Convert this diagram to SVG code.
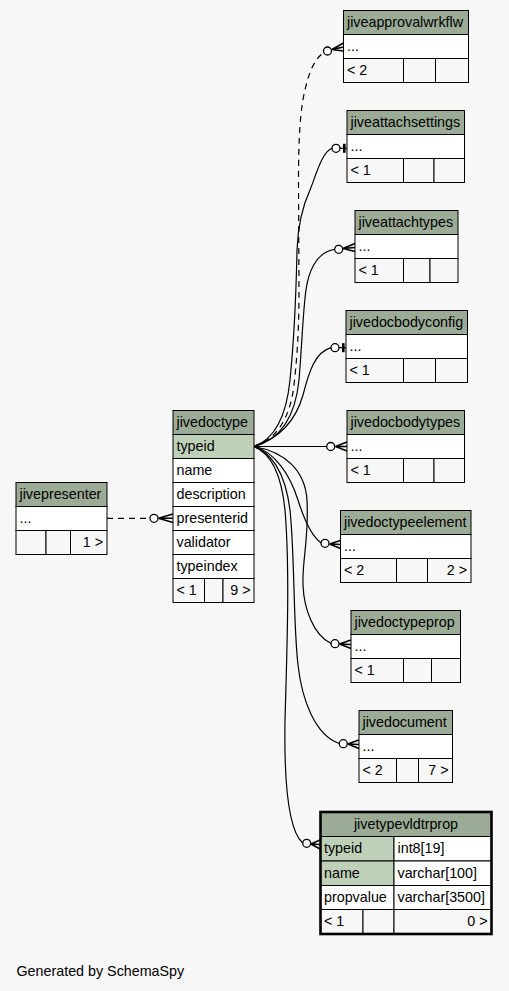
<svg xmlns="http://www.w3.org/2000/svg" width="509" height="991" viewBox="0 0 509 991">
<defs>
<style>
.hd{fill:#9bab96;stroke:#000;stroke-width:1}
.wr{fill:#ffffff;stroke:#000;stroke-width:1}
.ft{fill:#f7f7f7;stroke:#000;stroke-width:1}
.key{fill:#bfd0b8;stroke:#000;stroke-width:1}
text{font-family:"Liberation Sans",Arial,Helvetica,sans-serif;font-size:14.3px;fill:#000}
.r{text-anchor:end}
.c{text-anchor:middle}
.e{fill:none;stroke:#000;stroke-width:1.2}
.d{stroke-dasharray:6,5}
.o{fill:#ffffff;stroke:#000;stroke-width:1.3}
.cr{fill:none;stroke:#000;stroke-width:1.5}
.tee{fill:#000;stroke:none}
</style>
</defs>
<rect x="0" y="0" width="509" height="991" fill="#f7f7f7"/>

<g id="connectors">
<path class="e d" d="M254,446.5 C275,440 290,420 294,385 C298,350 299,320 299,290 L298.5,180 C298.5,140 300,110 305,90 C309,72 315,58 323.5,53"/>
<circle class="o" cx="327.5" cy="51" r="4"/>
<path class="cr" d="M332,49.5 L343.5,43 M332,49.5 L343.5,47 M332,49.5 L343.5,51"/>

<path class="e" d="M254,446.5 C272,440 286,420 290,380 C294,340 296,300 297,250 C298,225 303,205 310,190 C316,175 322,152 332,148.3"/>
<circle class="o" cx="336" cy="148.3" r="4"/>
<path class="e" d="M340,148.3 L347,148.3"/>
<rect class="tee" x="343" y="143.8" width="2.6" height="9"/>

<path class="e" d="M254,446.5 C278,440 295,420 299,380 C302,345 303,310 306,290 C308,275 315,252 334.7,249.3"/>
<circle class="o" cx="338.7" cy="249.3" r="4"/>
<path class="cr" d="M343,248.5 L355,243.5 M343,248.5 L355,247.5 M343,248.5 L355,251.5"/>

<path class="e" d="M254,446.5 C280,438 296,420 303,395 C309,372 315,352 331,347.7"/>
<circle class="o" cx="335" cy="347.7" r="4"/>
<path class="e" d="M339,347.7 L346,347.7"/>
<rect class="tee" x="342" y="343.2" width="2.6" height="9"/>

<path class="e" d="M254,446.5 L326.7,446.5"/>
<circle class="o" cx="330.7" cy="446.5" r="4"/>
<path class="cr" d="M335.5,446.5 L347,442 M335.5,446.5 L347,446.5 M335.5,446.5 L347,451"/>

<path class="e" d="M254,446.5 C275,452 290,475 298,500 C303,516 310,535 321,542.8"/>
<circle class="o" cx="325" cy="543.3" r="4"/>
<path class="cr" d="M329.5,544 L340.5,540.5 M329.5,544 L340.5,544.5 M329.5,544 L340.5,548.5"/>

<path class="e" d="M254,446.5 C285,452 305,470 307,500 C309,540 302,560 303,585 C304,610 314,635 331,643.5"/>
<circle class="o" cx="335" cy="643.7" r="4"/>
<path class="cr" d="M339.5,644 L351,640 M339.5,644 L351,644.5 M339.5,644 L351,648.5"/>

<path class="e" d="M254,446.5 C270,452 285,470 290,510 C295,560 293,620 298,665 C302,700 315,735 339.3,743.5"/>
<circle class="o" cx="343.3" cy="743.7" r="4"/>
<path class="cr" d="M347.8,744 L359,740 M347.8,744 L359,744.5 M347.8,744 L359,748.5"/>

<path class="e" d="M254,446.5 C268,452 281,470 285,510 C290,570 287,650 285,720 C284,780 288,830 302.7,843"/>
<circle class="o" cx="306.7" cy="843.3" r="4"/>
<path class="cr" d="M311,844 L320,840 M311,844 L320,844.5 M311,844 L320,849"/>

<path class="e d" d="M107,518.3 L150,518.3"/>
<circle class="o" cx="154" cy="518.3" r="4"/>
<path class="cr" d="M158.5,518.3 L173,514 M158.5,518.3 L173,518.3 M158.5,518.3 L173,522.5"/>
</g>

<g id="jiveapprovalwrkflw">
<rect class="hd" x="343.5" y="10.5" width="125" height="24"/>
<rect class="wr" x="343.5" y="34.5" width="125" height="24"/>
<rect class="ft" x="343.5" y="58.5" width="60" height="24"/>
<rect class="ft" x="403.5" y="58.5" width="32" height="24"/>
<rect class="ft" x="435.5" y="58.5" width="33" height="24"/>
<text x="347" y="27">jiveapprovalwrkflw</text>
<text x="347" y="51">...</text>
<text x="347" y="75">&lt; 2</text>
</g>

<g id="jiveattachsettings">
<rect class="hd" x="347" y="110.5" width="117.5" height="24"/>
<rect class="wr" x="347" y="134.5" width="117.5" height="24"/>
<rect class="ft" x="347" y="158.5" width="56.5" height="24"/>
<rect class="ft" x="403.5" y="158.5" width="30.5" height="24"/>
<rect class="ft" x="434" y="158.5" width="30.5" height="24"/>
<text x="350.5" y="127">jiveattachsettings</text>
<text x="350.5" y="151">...</text>
<text x="350.5" y="175">&lt; 1</text>
</g>

<g id="jiveattachtypes">
<rect class="hd" x="355" y="210.5" width="103" height="24"/>
<rect class="wr" x="355" y="234.5" width="103" height="24"/>
<rect class="ft" x="355" y="258.5" width="48.5" height="24"/>
<rect class="ft" x="403.5" y="258.5" width="26.5" height="24"/>
<rect class="ft" x="430" y="258.5" width="28" height="24"/>
<text x="358.5" y="227">jiveattachtypes</text>
<text x="358.5" y="251">...</text>
<text x="358.5" y="275">&lt; 1</text>
</g>

<g id="jivedocbodyconfig">
<rect class="hd" x="346" y="310.5" width="121.5" height="24"/>
<rect class="wr" x="346" y="334.5" width="121.5" height="24"/>
<rect class="ft" x="346" y="358.5" width="57.5" height="24"/>
<rect class="ft" x="403.5" y="358.5" width="32" height="24"/>
<rect class="ft" x="435.5" y="358.5" width="32" height="24"/>
<text x="349.5" y="327">jivedocbodyconfig</text>
<text x="349.5" y="351">...</text>
<text x="349.5" y="375">&lt; 1</text>
</g>

<g id="jivedocbodytypes">
<rect class="hd" x="347" y="410.5" width="117.5" height="24"/>
<rect class="wr" x="347" y="434.5" width="117.5" height="24"/>
<rect class="ft" x="347" y="458.5" width="56.5" height="24"/>
<rect class="ft" x="403.5" y="458.5" width="30.5" height="24"/>
<rect class="ft" x="434" y="458.5" width="30.5" height="24"/>
<text x="350.5" y="427">jivedocbodytypes</text>
<text x="350.5" y="451">...</text>
<text x="350.5" y="475">&lt; 1</text>
</g>

<g id="jivedoctypeelement">
<rect class="hd" x="340.5" y="510.5" width="130.5" height="24"/>
<rect class="wr" x="340.5" y="534.5" width="130.5" height="24"/>
<rect class="ft" x="340.5" y="558.5" width="56" height="24"/>
<rect class="ft" x="396.5" y="558.5" width="31" height="24"/>
<rect class="ft" x="427.5" y="558.5" width="43.5" height="24"/>
<text x="344" y="527">jivedoctypeelement</text>
<text x="344" y="551">...</text>
<text x="344" y="575">&lt; 2</text>
<text class="r" x="467" y="575">2 &gt;</text>
</g>

<g id="jivedoctypeprop">
<rect class="hd" x="351" y="610.5" width="109.5" height="24"/>
<rect class="wr" x="351" y="634.5" width="109.5" height="24"/>
<rect class="ft" x="351" y="658.5" width="52.5" height="24"/>
<rect class="ft" x="403.5" y="658.5" width="28" height="24"/>
<rect class="ft" x="431.5" y="658.5" width="29" height="24"/>
<text x="354.5" y="627">jivedoctypeprop</text>
<text x="354.5" y="651">...</text>
<text x="354.5" y="675">&lt; 1</text>
</g>

<g id="jivedocument">
<rect class="hd" x="359" y="710.5" width="93.5" height="24"/>
<rect class="wr" x="359" y="734.5" width="93.5" height="24"/>
<rect class="ft" x="359" y="758.5" width="37.5" height="24"/>
<rect class="ft" x="396.5" y="758.5" width="22" height="24"/>
<rect class="ft" x="418.5" y="758.5" width="34" height="24"/>
<text x="362.5" y="727">jivedocument</text>
<text x="362.5" y="751">...</text>
<text x="362.5" y="775">&lt; 2</text>
<text class="r" x="448.5" y="775">7 &gt;</text>
</g>

<g id="jivedoctype">
<rect class="hd" x="173" y="410.5" width="81" height="24"/>
<rect class="key" x="173" y="434.5" width="81" height="24"/>
<rect class="wr" x="173" y="458.5" width="81" height="24"/>
<rect class="wr" x="173" y="482.5" width="81" height="24"/>
<rect class="wr" x="173" y="506.5" width="81" height="24"/>
<rect class="wr" x="173" y="530.5" width="81" height="24"/>
<rect class="wr" x="173" y="554.5" width="81" height="24"/>
<rect class="ft" x="173" y="578.5" width="31.5" height="24"/>
<rect class="ft" x="204.5" y="578.5" width="18.5" height="24"/>
<rect class="ft" x="223" y="578.5" width="31" height="24"/>
<text x="176.5" y="427">jivedoctype</text>
<text x="176.5" y="451">typeid</text>
<text x="176.5" y="475">name</text>
<text x="176.5" y="499">description</text>
<text x="176.5" y="523">presenterid</text>
<text x="176.5" y="547">validator</text>
<text x="176.5" y="571">typeindex</text>
<text x="176.5" y="595">&lt; 1</text>
<text class="r" x="250.5" y="595">9 &gt;</text>
</g>

<g id="jivepresenter">
<rect class="hd" x="16" y="482.5" width="91" height="24"/>
<rect class="wr" x="16" y="506.5" width="91" height="24"/>
<rect class="ft" x="16" y="530.5" width="30" height="24"/>
<rect class="ft" x="46" y="530.5" width="24.5" height="24"/>
<rect class="ft" x="70.5" y="530.5" width="36.5" height="24"/>
<text x="19.5" y="499">jivepresenter</text>
<text x="19.5" y="523">...</text>
<text class="r" x="103" y="547">1 &gt;</text>
</g>

<g id="jivetypevldtrprop">
<rect class="hd" x="320.5" y="812" width="171" height="24.5"/>
<rect class="key" x="320.5" y="836.5" width="73.5" height="24.5"/>
<rect class="wr" x="394" y="836.5" width="97.5" height="24.5"/>
<rect class="key" x="320.5" y="861" width="73.5" height="24.5"/>
<rect class="wr" x="394" y="861" width="97.5" height="24.5"/>
<rect class="wr" x="320.5" y="885.5" width="73.5" height="24"/>
<rect class="wr" x="394" y="885.5" width="97.5" height="24"/>
<rect class="ft" x="320.5" y="909.5" width="42.5" height="24.5"/>
<rect class="ft" x="363" y="909.5" width="31" height="24.5"/>
<rect class="ft" x="394" y="909.5" width="97.5" height="24.5"/>
<rect x="320.5" y="812" width="171" height="122" fill="none" stroke="#000" stroke-width="2.6"/>
<text class="c" x="406" y="829">jivetypevldtrprop</text>
<text x="324" y="853">typeid</text>
<text x="397.5" y="853">int8[19]</text>
<text x="324" y="877.5">name</text>
<text x="397.5" y="877.5">varchar[100]</text>
<text x="324" y="902">propvalue</text>
<text x="397.5" y="902">varchar[3500]</text>
<text x="324" y="926">&lt; 1</text>
<text class="r" x="487.5" y="926">0 &gt;</text>
</g>

<text x="16.5" y="976">Generated by SchemaSpy</text>
</svg>
